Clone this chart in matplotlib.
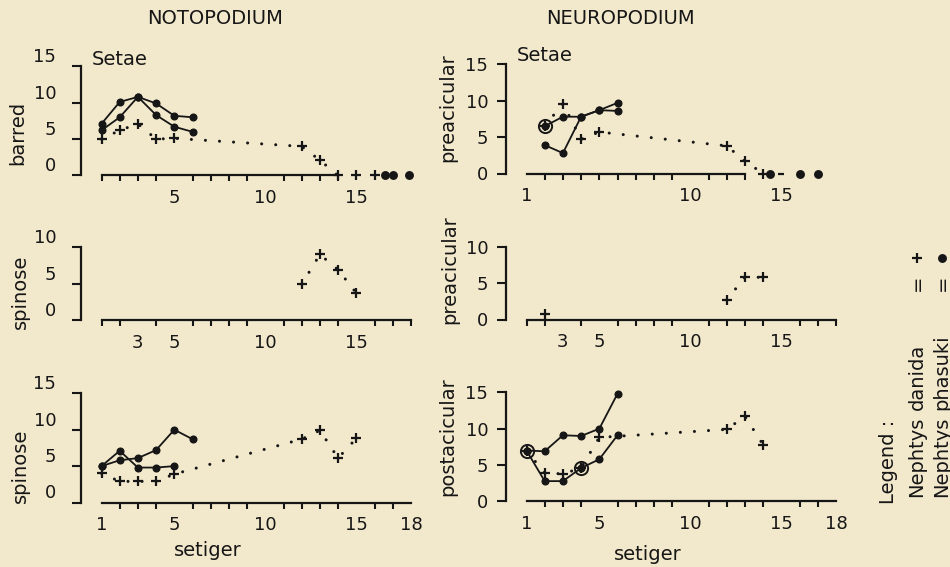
import numpy as np
import matplotlib
matplotlib.use("Agg")
import matplotlib.pyplot as plt
from matplotlib.lines import Line2D

W, H = 950, 567
BG = '#f2e8cc'
INK = '#161616'
SX = 18.2   # px per setiger
SY = 7.28   # px per seta

# ---------------- data ----------------
# notopodium, barred
noto_barred_ph_x = [1, 2, 3, 4, 5, 6]
noto_barred_ph_a = [7.1, 10.1, 10.8, 9.9, 8.2, 8.0]
noto_barred_ph_b = [6.2, 8.0, 10.8, 8.3, 6.7, 6.0]
noto_barred_da_x = [1, 2, 3, 4, 5, 12, 13, 14]
noto_barred_da_y = [5.0, 6.2, 7.1, 5.0, 5.1, 4.0, 2.1, 0]
noto_barred_da_zero_x = [15, 16]
noto_barred_ph_zero_x = [16.6, 17.0, 17.9]

# neuropodium, preacicular (top)
neuro_pre_ph_x = [2, 3, 4, 5, 6]
neuro_pre_ph_a = [6.5, 7.8, 7.8, 8.7, 9.7]
neuro_pre_ph_b = [3.9, 2.8, 7.8, 8.7, 8.6]
neuro_pre_da_x = [2, 3, 4, 5, 12, 13, 14]
neuro_pre_da_y = [6.5, 9.6, 4.7, 5.7, 3.8, 1.7, 0]
neuro_pre_da_zero_x = [15]
neuro_pre_ph_zero_x = [14.4, 16, 17]
neuro_pre_both_x = [2]
neuro_pre_both_y = [6.5]

# notopodium, spinose (middle)
noto_spin1_da_x = [12, 13, 14, 15]
noto_spin1_da_y = [4.9, 9.0, 6.9, 3.7]

# neuropodium, preacicular (middle)
neuro_pre2_da_single_x = [2]
neuro_pre2_da_single_y = [0.8]
neuro_pre2_da_x = [12, 13, 14]
neuro_pre2_da_y = [2.7, 5.8, 5.8]

# notopodium, spinose (bottom)
noto_spin_ph_a_x = [1, 2, 3, 4, 5]
noto_spin_ph_a = [5.0, 7.1, 4.8, 4.8, 5.0]
noto_spin_ph_b_x = [1, 2, 3, 4, 5, 6]
noto_spin_ph_b = [5.0, 5.8, 6.1, 7.2, 10.0, 8.7]
noto_spin_da_x = [1, 2, 3, 4, 5, 12, 13, 14, 15]
noto_spin_da_y = [4.0, 2.9, 2.9, 2.9, 3.9, 8.7, 9.9, 6.1, 8.8]

# neuropodium, postacicular
neuro_post_ph_x = [1, 2, 3, 4, 5, 6]
neuro_post_ph_a = [7.0, 6.9, 9.1, 9.0, 10.0, 14.8]
neuro_post_ph_b = [7.0, 2.8, 2.8, 4.6, 5.8, 9.1]
neuro_post_da_x = [1, 2, 3, 4, 5, 12, 13, 14]
neuro_post_da_y = [7.0, 3.9, 3.8, 4.6, 8.8, 9.9, 11.7, 7.8]
neuro_post_both_x = [1, 4]
neuro_post_both_y = [7.0, 4.6]

plt.rcParams['font.family'] = 'DejaVu Sans'
fig = plt.figure(figsize=(W / 100, H / 100), dpi=100)
fig.patch.set_facecolor(BG)


def px_axes(x1_px, y0_px, ylim):
    xlim = (-1.5, 19)
    left = x1_px + (xlim[0] - 1) * SX
    right = x1_px + (xlim[1] - 1) * SX
    bottom = y0_px - ylim[0] * SY
    top = y0_px - ylim[1] * SY
    ax = fig.add_axes([left / W, 1 - bottom / H, (right - left) / W, (bottom - top) / H])
    ax.set_xlim(xlim)
    ax.set_ylim(ylim)
    ax.patch.set_alpha(0)
    return ax


def frame(ax, ymax, xend, xlabs, ylab, lab_px, ypad, lift):
    for s in ['top', 'right']:
        ax.spines[s].set_visible(False)
    for s in ['left', 'bottom']:
        ax.spines[s].set_linewidth(1.6)
        ax.spines[s].set_color(INK)
    ax.spines['left'].set_position(('data', -0.15))
    ax.spines['left'].set_bounds(0, ymax)
    ax.spines['bottom'].set_position(('data', 0))
    ax.spines['bottom'].set_bounds(1, xend)
    ax.set_yticks(np.arange(0, ymax + 1, 5))
    ax.tick_params(axis='y', direction='out', length=6.5, width=1.5, pad=ypad,
                   labelsize=13, color=INK, labelcolor=INK)
    ax.set_xticks(xlabs)
    ax.set_xticks(np.arange(1, xend + 1), minor=True)
    ax.tick_params(axis='x', which='major', length=0, pad=10, labelsize=13, labelcolor=INK)
    ax.tick_params(axis='x', which='minor', direction='out', length=4.5, width=1.5, color=INK)
    if lift:
        for t in ax.get_yticklabels():
            t.set_va('bottom')
    ax.set_ylabel(ylab, fontsize=14, color=INK)
    ax.yaxis.label.set_va('center')
    ax.yaxis.set_label_coords(lab_px[0] / W, 1 - lab_px[1] / H, transform=fig.transFigure)


def xlab(ax, x, y):
    ax.set_xlabel('setiger', fontsize=14, color=INK)
    ax.xaxis.label.set_va('center')
    ax.xaxis.set_label_coords(x / W, 1 - y / H, transform=fig.transFigure)


def phasuki(ax, x, y):
    ax.plot(x, y, '-', color=INK, lw=1.3, marker='o', ms=4.8, zorder=3)


def danida(ax, x, y, line=True):
    ax.plot(x, y, color=INK, lw=2.2, ls=(0, (0.01, 4.6)) if line else 'none',
            dash_capstyle='round', marker='+', ms=7, mew=1.6, zorder=3)


def zeros(ax, x, marker):
    ax.plot(x, np.zeros(len(x)), ls='none', color=INK, marker=marker,
            ms=7 if marker == '+' else 4.8, mew=1.6, zorder=3, clip_on=False)


def both(ax, x, y):
    ax.plot(x, y, ls='none', marker='o', ms=9.5, mfc='none', mec=INK, mew=1.4, zorder=4)


# top-left: notopodium barred
ax = px_axes(101.5, 175.5, (-2, 16))
frame(ax, 15, 14, [5, 10, 15], 'barred', (18, 133), 11, True)
phasuki(ax, noto_barred_ph_x, noto_barred_ph_a)
phasuki(ax, noto_barred_ph_x, noto_barred_ph_b)
danida(ax, noto_barred_da_x, noto_barred_da_y)
zeros(ax, noto_barred_da_zero_x, '+')
zeros(ax, noto_barred_ph_zero_x, 'o')
ax.text(0.45, 16.0, 'Setae', fontsize=14, color=INK, va='center')

# top-right: neuropodium preacicular
ax = px_axes(526.5, 173.5, (-2, 16))
frame(ax, 15, 13, [1, 10, 15], 'preacicular', (448, 108), 6, False)
phasuki(ax, neuro_pre_ph_x, neuro_pre_ph_a)
phasuki(ax, neuro_pre_ph_x, neuro_pre_ph_b)
danida(ax, neuro_pre_da_x, neuro_pre_da_y)
zeros(ax, neuro_pre_da_zero_x, '_')
zeros(ax, neuro_pre_ph_zero_x, 'o')
both(ax, neuro_pre_both_x, neuro_pre_both_y)
ax.text(0.45, 16.2, 'Setae', fontsize=14, color=INK, va='center')

# middle-left: notopodium spinose
ax = px_axes(101.5, 320, (-2, 11))
frame(ax, 10, 18, [3, 5, 10, 15], 'spinose', (20, 292), 11, True)
danida(ax, noto_spin1_da_x, noto_spin1_da_y)

# middle-right: neuropodium preacicular
ax = px_axes(526.5, 319.5, (-2, 11))
frame(ax, 10, 18, [3, 5, 10, 15], 'preacicular', (450, 270), 6, False)
danida(ax, neuro_pre2_da_single_x, neuro_pre2_da_single_y, line=False)
danida(ax, neuro_pre2_da_x, neuro_pre2_da_y)

# bottom-left: notopodium spinose
ax = px_axes(101.5, 502.5, (-2, 16))
frame(ax, 15, 18, [1, 5, 10, 15, 18], 'spinose', (20, 466), 11, True)
phasuki(ax, noto_spin_ph_a_x, noto_spin_ph_a)
phasuki(ax, noto_spin_ph_b_x, noto_spin_ph_b)
danida(ax, noto_spin_da_x, noto_spin_da_y)
xlab(ax, 208, 551)

# bottom-right: neuropodium postacicular
ax = px_axes(526.5, 501.5, (-2, 16))
frame(ax, 15, 18, [1, 5, 10, 15, 18], 'postacicular', (448, 437), 6, False)
phasuki(ax, neuro_post_ph_x, neuro_post_ph_a)
phasuki(ax, neuro_post_ph_x, neuro_post_ph_b)
danida(ax, neuro_post_da_x, neuro_post_da_y)
both(ax, neuro_post_both_x, neuro_post_both_y)
xlab(ax, 648, 555)

# column titles
fig.text(215 / W, 1 - 18 / H, 'NOTOPODIUM', fontsize=14, color=INK, ha='center', va='center')
fig.text(620 / W, 1 - 18 / H, 'NEUROPODIUM', fontsize=14, color=INK, ha='center', va='center')

# legend, written sideways
rot = dict(rotation=90, ha='center', fontsize=14, color=INK)
fig.text(888 / W, 1 - 504 / H, 'Legend :', va='bottom', **rot)
for xp, name, mk in [(917, 'danida', '+'), (942, 'phasuki', 'o')]:
    fig.text(xp / W, 1 - 497 / H, 'Nephtys', va='bottom', **rot)
    fig.text(xp / W, 1 - 410 / H, name, va='bottom', **rot)
    fig.text(xp / W, 1 - 283 / H, '=', va='center', **rot)
    fig.add_artist(Line2D([xp / W], [1 - 258 / H], transform=fig.transFigure, marker=mk,
                          ms=7 if mk == '+' else 4.8, mew=1.6, color=INK, ls='none'))

fig.savefig('out.png', dpi=100, facecolor=BG)
